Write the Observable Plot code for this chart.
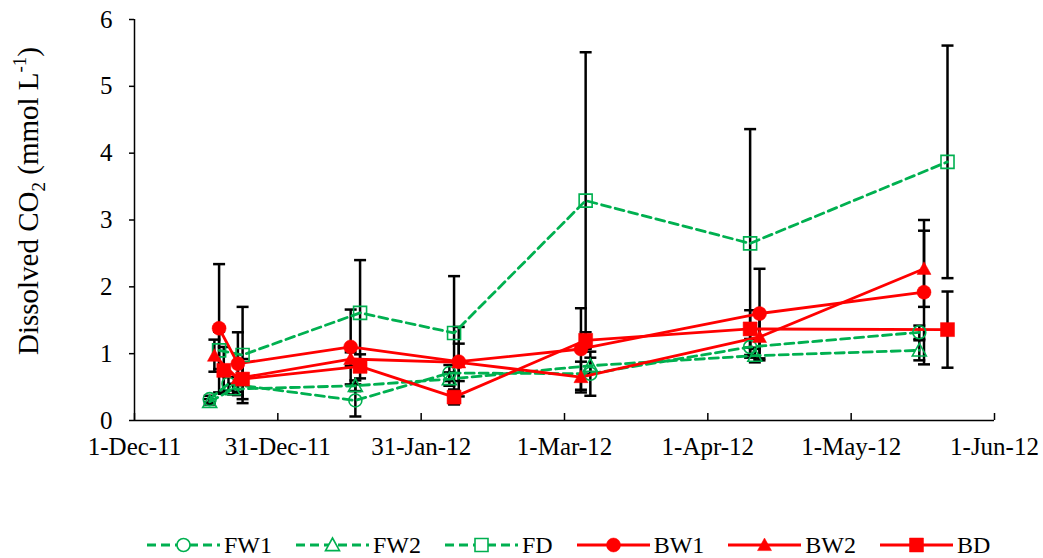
<!DOCTYPE html>
<html>
<head>
<meta charset="utf-8">
<script src="https://cdn.jsdelivr.net/npm/d3@7"></script>
<script src="https://cdn.jsdelivr.net/npm/@observablehq/plot@0.6"></script>
<style>
  html, body { margin: 0; padding: 0; background: #fff; }
  body { width: 1043px; height: 558px; position: relative; overflow: hidden;
         font-family: "Liberation Serif", "Times New Roman", serif; }
  #legend { position: absolute; left: 147px; top: 531px; display: flex; align-items: center;
            font-size: 24px; line-height: 28px; color: #000; }
  #legend .item { display: flex; align-items: center; margin-right: 24px; }
  #legend .item:last-child { margin-right: 0; }
  #legend svg { display: block; margin-right: 4px; }
</style>
</head>
<body>
<script>
// Series shown in the legend, in drawing order
const seriesNames = ["FW1", "FW2", "FD", "BW1", "BW2", "BD"];

// Sampling dates, mean dissolved CO2 (mmol L-1) and standard deviation for each series
const fw1Dates = ["2011-12-17", "2011-12-21", "2012-01-17", "2012-02-06", "2012-03-07", "2012-04-10", "2012-05-16"];
const fw1Mean  = [0.32, 0.55, 0.30, 0.71, 0.70, 1.10, 1.32];
const fw1Sd    = [0.05, 0.10, 0.24, 0.12, 0.33, 0.12, 0.10];

const fw2Dates = ["2011-12-17", "2011-12-22", "2012-01-17", "2012-02-06", "2012-03-07", "2012-04-11", "2012-05-16"];
const fw2Mean  = [0.28, 0.47, 0.52, 0.62, 0.82, 0.97, 1.05];
const fw2Sd    = [0.04, 0.08, 0.08, 0.10, 0.12, 0.10, 0.15];

const fdDates  = ["2011-12-19", "2011-12-24", "2012-01-18", "2012-02-07", "2012-03-06", "2012-04-10", "2012-05-22"];
const fdMean   = [1.05, 0.98, 1.61, 1.31, 3.29, 2.65, 3.87];
const fdSd     = [0.28, 0.72, 0.79, 0.85, 2.22, 1.71, 1.74];

const bw1Dates = ["2011-12-19", "2011-12-23", "2012-01-16", "2012-02-08", "2012-03-05", "2012-04-12", "2012-05-17"];
const bw1Mean  = [1.38, 0.85, 1.10, 0.88, 1.07, 1.60, 1.92];
const bw1Sd    = [0.96, 0.47, 0.56, 0.52, 0.61, 0.67, 1.08];

const bw2Dates = ["2011-12-18", "2011-12-23", "2012-01-16", "2012-02-08", "2012-03-05", "2012-04-12", "2012-05-17"];
const bw2Mean  = [0.97, 0.63, 0.92, 0.87, 0.65, 1.25, 2.27];
const bw2Sd    = [0.24, 0.20, 0.10, 0.28, 0.23, 0.35, 0.57];

const bdDates  = ["2011-12-20", "2011-12-24", "2012-01-18", "2012-02-07", "2012-03-06", "2012-04-10", "2012-05-22"];
const bdMean   = [0.75, 0.62, 0.81, 0.35, 1.20, 1.37, 1.36];
const bdSd     = [0.35, 0.30, 0.18, 0.11, 0.12, 0.28, 0.57];

// Axis ticks: the date axis steps by 30.5 days from 1 Dec 2011
const xTickDates  = ["2011-12-01T00:00Z", "2011-12-31T12:00Z", "2012-01-31T00:00Z", "2012-03-01T12:00Z",
                     "2012-04-01T00:00Z", "2012-05-01T12:00Z", "2012-06-01T00:00Z"];
const xTickLabels = ["1-Dec-11", "31-Dec-11", "31-Jan-12", "1-Mar-12", "1-Apr-12", "1-May-12", "1-Jun-12"];
const yTicks      = [0, 1, 2, 3, 4, 5, 6];

// ---- build the long table ----
const seriesData = {
  FW1: [fw1Dates, fw1Mean, fw1Sd],
  FW2: [fw2Dates, fw2Mean, fw2Sd],
  FD:  [fdDates,  fdMean,  fdSd],
  BW1: [bw1Dates, bw1Mean, bw1Sd],
  BW2: [bw2Dates, bw2Mean, bw2Sd],
  BD:  [bdDates,  bdMean,  bdSd]
};
const rows = seriesNames.flatMap(name => {
  const [dates, mean, sd] = seriesData[name];
  return dates.map((d, i) => ({series: name, date: new Date(d), mean: mean[i], sd: sd[i]}));
});

// ---- marker shapes (radius derived from the symbol size) ----
const rad = size => Math.sqrt(size / Math.PI);
const symCircle = {draw(c, s) { const r = rad(s); c.moveTo(r, 0); c.arc(0, 0, r, 0, 2 * Math.PI); }};
const symSquare = {draw(c, s) { const r = rad(s); c.rect(-r, -r, 2 * r, 2 * r); }};
const symTriangle = {draw(c, s) { const r = rad(s); c.moveTo(0, -r); c.lineTo(r, r * 0.8); c.lineTo(-r, r * 0.8); c.closePath(); }};
const symCap = {draw(c, s) { const r = rad(s); c.moveTo(-r, 0); c.lineTo(r, 0); }};

const GREEN = "#00B050", RED = "#FF0000";
const styles = {
  FW1: {color: GREEN, dashed: true,  symbol: symCircle,   r: 6.5, filled: false},
  FW2: {color: GREEN, dashed: true,  symbol: symTriangle, r: 7,   filled: false},
  FD:  {color: GREEN, dashed: true,  symbol: symSquare,   r: 6.5, filled: false},
  BW1: {color: RED,   dashed: false, symbol: symCircle,   r: 7,   filled: true},
  BW2: {color: RED,   dashed: false, symbol: symTriangle, r: 7,   filled: true},
  BD:  {color: RED,   dashed: false, symbol: symSquare,   r: 7,   filled: true}
};

const xStart = new Date("2011-12-01T00:00Z"), xEnd = new Date("2012-06-01T00:00Z");
const tickTimes = xTickDates.map(d => +new Date(d));
const labelOf = d => xTickLabels[tickTimes.indexOf(+d)];

const H = 505, MT = 19, MB = 85;
const lineMarks = seriesNames.map(name => {
  const st = styles[name];
  return Plot.line(rows.filter(d => d.series === name), {
    x: "date", y: "mean", stroke: st.color, strokeWidth: 2.8,
    strokeDasharray: st.dashed ? "9,5" : null
  });
});
const dotMarks = seriesNames.map(name => {
  const st = styles[name];
  return Plot.dot(rows.filter(d => d.series === name), {
    x: "date", y: "mean", symbol: st.symbol, r: st.r,
    fill: st.filled ? st.color : "none", stroke: st.color, strokeWidth: st.filled ? 0.5 : 1.6
  });
});

const chart = Plot.plot({
  width: 1043, height: H,
  marginLeft: 134, marginRight: 49, marginTop: MT, marginBottom: MB,
  style: {fontFamily: '"Liberation Serif", "Times New Roman", serif', fontSize: "25px", color: "#000", background: "#fff"},
  x: {type: "utc", domain: [xStart, xEnd]},
  y: {domain: [0, 6]},
  marks: [
    Plot.axisY({ticks: yTicks, tickSize: 5, tickPadding: 17, label: null, fontSize: 25, strokeWidth: 1.5,
                tickFormat: d => String(d)}),
    Plot.axisX({ticks: xTickDates.map(d => new Date(d)), tickSize: 0, tickPadding: 17, label: null,
                tickFormat: labelOf, fontSize: 25}),
    // inward tick marks on the date axis
    Plot.ruleX(xTickDates.map(d => new Date(d)), {stroke: "#000", strokeWidth: 1.5, insetTop: H - MT - MB - 7}),
    Plot.ruleX([xStart], {stroke: "#000", strokeWidth: 1.5}),
    Plot.ruleY([0], {stroke: "#000", strokeWidth: 1.5}),
    // error bars (mean ± SD)
    Plot.ruleX(rows, {x: "date", y1: d => d.mean - d.sd, y2: d => d.mean + d.sd, stroke: "#000", strokeWidth: 2.5}),
    Plot.dot(rows, {x: "date", y: d => d.mean + d.sd, symbol: symCap, r: 6, stroke: "#000", strokeWidth: 2.5}),
    Plot.dot(rows, {x: "date", y: d => d.mean - d.sd, symbol: symCap, r: 6, stroke: "#000", strokeWidth: 2.5}),
    ...lineMarks,
    ...dotMarks
  ]
});
document.body.appendChild(chart);

// y-axis title with subscript and superscript
const title = d3.select(chart).append("text")
  .attr("transform", "translate(38,201) rotate(-90)")
  .attr("text-anchor", "middle")
  .attr("font-size", 29)
  .attr("fill", "#000");
title.append("tspan").text("Dissolved CO");
title.append("tspan").attr("dy", 7).attr("font-size", 19).text("2");
title.append("tspan").attr("dy", -7).text(" (mmol L");
title.append("tspan").attr("dy", -12).attr("font-size", 19).text("-1");
title.append("tspan").attr("dy", 12).text(")");

// legend below the chart
const legend = d3.select("body").append("div").attr("id", "legend");
for (const name of seriesNames) {
  const st = styles[name];
  const item = legend.append("div").attr("class", "item");
  const svg = item.append("svg").attr("width", 73).attr("height", 24);
  svg.append("line").attr("x1", 0).attr("x2", 73).attr("y1", 12).attr("y2", 12)
    .attr("stroke", st.color).attr("stroke-width", 2.8)
    .attr("stroke-dasharray", st.dashed ? "9,5" : null);
  svg.append("path")
    .attr("d", d3.symbol(st.symbol, Math.PI * st.r * st.r)())
    .attr("transform", "translate(36.5,12)")
    .attr("fill", st.filled ? st.color : "#fff")
    .attr("stroke", st.color).attr("stroke-width", st.filled ? 0.5 : 1.6);
  item.append("span").text(name);
}
</script>
</body>
</html>
